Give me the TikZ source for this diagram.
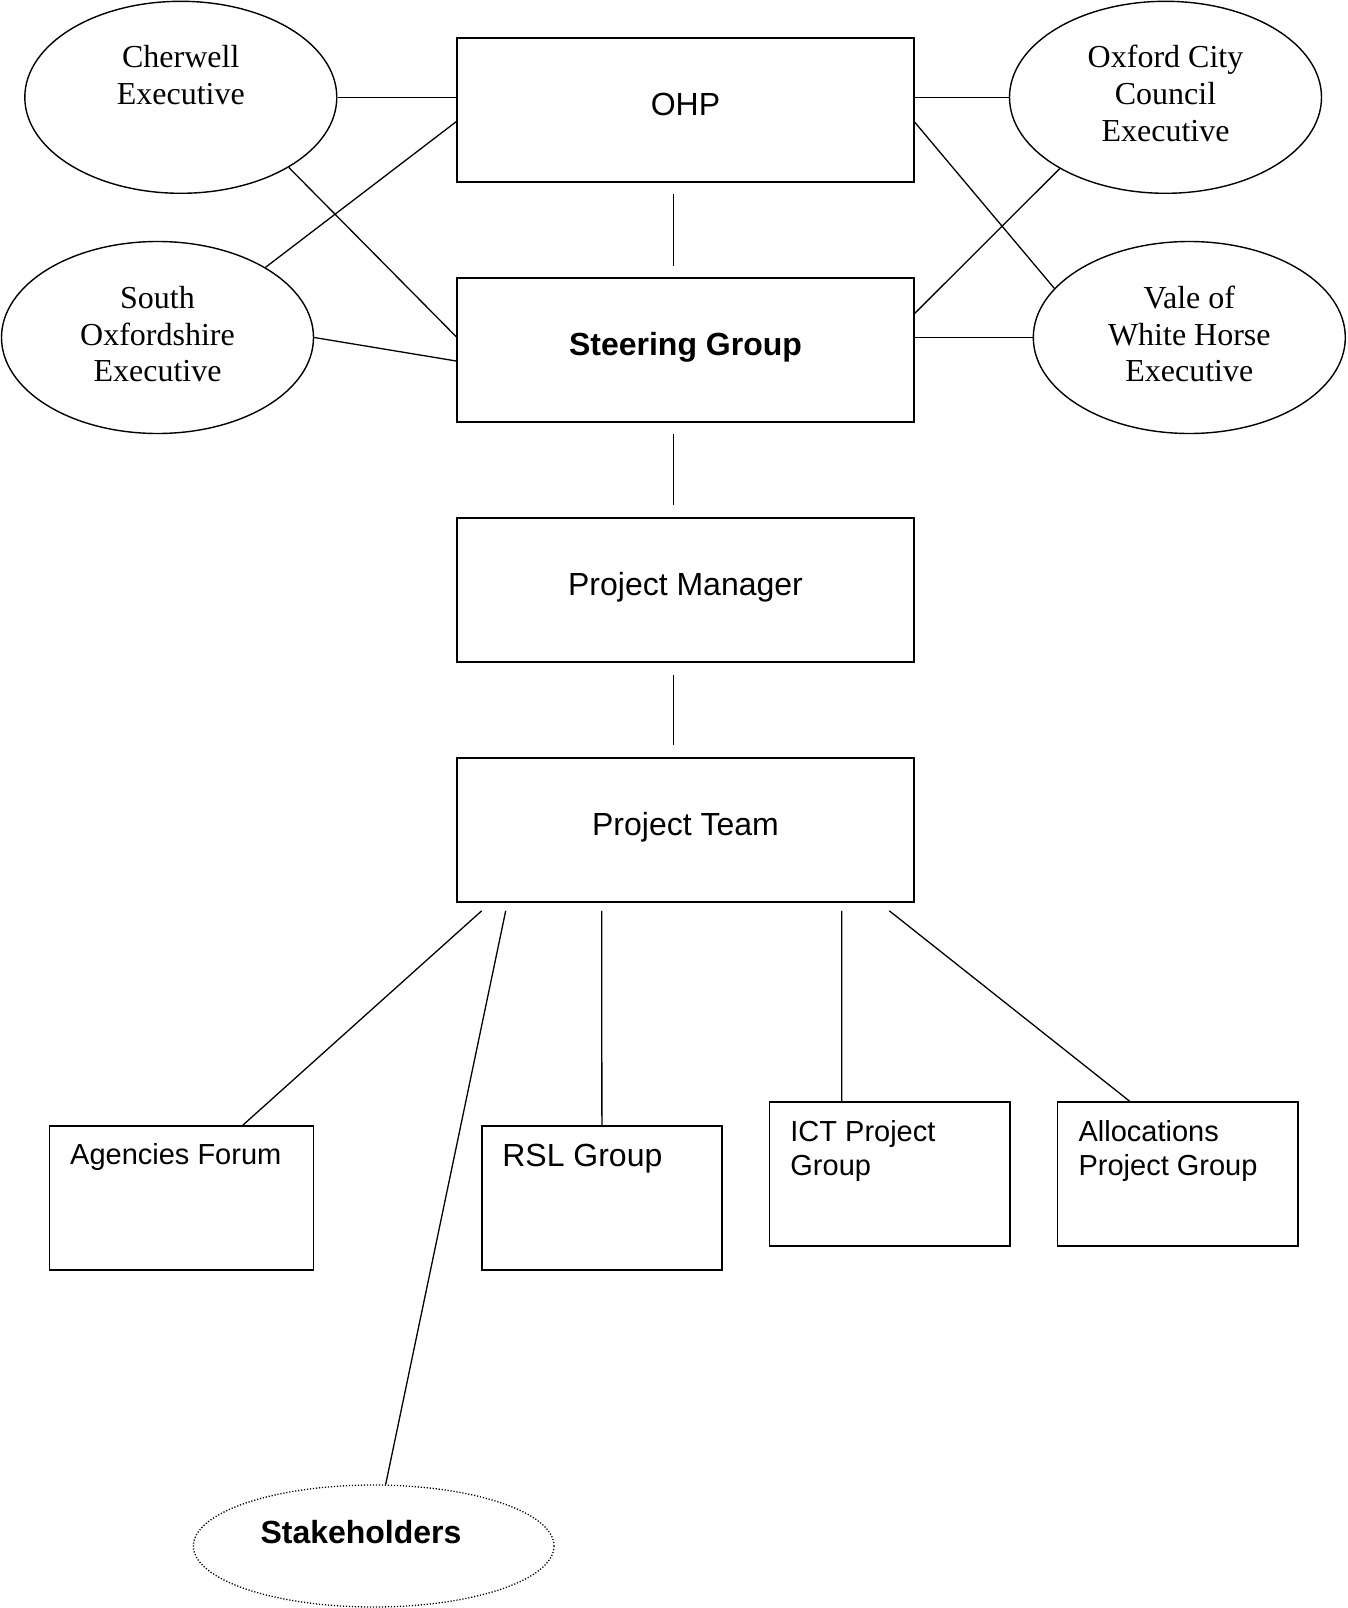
\documentclass[tikz,border=0pt]{standalone}
\usepackage{fontspec}
\setmainfont{Liberation Serif}
\newfontfamily\arialf{Liberation Sans}
\usetikzlibrary{shapes.geometric}
\begin{document}
\begin{tikzpicture}[x=1pt,y=-1pt,
  bigbox/.style={draw,line width=1.6pt,rectangle,minimum width=457pt,minimum height=144pt,inner sep=0pt,
    font=\arialf\fontsize{32}{36.8}\selectfont,text height=23pt,text depth=12pt},
  smallbox/.style={draw,line width=1.6pt,rectangle,minimum height=144pt,inner sep=0pt},
  exec/.style={draw,line width=1.4pt,ellipse,minimum width=312pt,minimum height=192pt,inner sep=0pt},
  exectext/.style={font=\fontsize{32}{36.8}\selectfont,align=center,inner sep=0pt,anchor=base},
  boxtext/.style={font=\arialf\fontsize{29}{34}\selectfont,align=left,inner sep=0pt,anchor=base west},
  conn/.style={line width=1.3pt}
]
\useasboundingbox[fill=white] (0,0) rectangle (1347,1608);

% central boxes
\node[bigbox] (ohp) at (685.5,110) {OHP};
\node[bigbox,font=\arialf\bfseries\fontsize{32}{36.8}\selectfont] (steer) at (685.5,350) {Steering Group};
\node[bigbox] (pm) at (685.5,590) {Project Manager};
\node[bigbox] (pt) at (685.5,830) {Project Team};

% executives
\node[exec] (cher) at (180.8,97.3) {};
\node[exec] (oxf) at (1165.5,97.3) {};
\node[exec] (sox) at (157.5,337.5) {};
\node[exec] (vale) at (1189.3,337.5) {};
\node[exectext] (chert) at ([yshift=-7.5pt]cher.center) {Cherwell\\Executive};
\node[exectext] (oxft) at ([yshift=-44.3pt]oxf.center) {Oxford City\\Council\\Executive};
\node[exectext] (soxt) at ([yshift=-44.3pt]sox.center) {South\\Oxfordshire\\Executive};
\node[exectext] (valet) at ([yshift=-44.3pt]vale.center) {Vale of\\White Horse\\Executive};

% bottom groups
\node[smallbox,minimum width=264pt] (agen) at (181.3,1198) {};
\node[smallbox,minimum width=240pt] (rsl) at (601.9,1198) {};
\node[smallbox,minimum width=240.8pt] (ict) at (889.8,1174) {};
\node[smallbox,minimum width=240.4pt] (alloc) at (1177.8,1174) {};
\node[boxtext] (agent) at ([xshift=21.5pt,yshift=-39pt]agen.north west) {Agencies Forum};
\node[boxtext,font=\arialf\fontsize{32}{36.8}\selectfont] (rslt) at ([xshift=21pt,yshift=-41.5pt]rsl.north west) {RSL Group};
\node[boxtext] (ictt) at ([xshift=21.6pt,yshift=-74pt]ict.north west) {ICT Project\\Group};
\node[boxtext] (allott) at ([xshift=21.6pt,yshift=-74pt]alloc.north west) {Allocations\\Project Group};

% stakeholders
\node[draw,ellipse,line width=1.3pt,dash pattern=on 1.2pt off 1.8pt,minimum width=360.6pt,minimum height=122pt,inner sep=0pt] (sth) at (373.7,1546) {};
\node[font=\arialf\bfseries\fontsize{32}{36.8}\selectfont,inner sep=0pt,anchor=base] (stht) at ([xshift=-12.7pt,yshift=2.5pt]sth.center) {Stakeholders};

% executive connectors
\draw[conn] (cher.east) -- (cher.east -| ohp.west);
\draw[conn] (cher.-33.2) -- ([yshift=13.3pt]steer.west);
\draw[conn] (sox.33.5) -- ([yshift=-11.7pt]ohp.west);
\draw[conn] (sox.east) -- ([yshift=-11pt]steer.west);
\draw[conn] (oxf.west -| ohp.east) -- (oxf.west);
\draw[conn] ([yshift=-12.3pt]ohp.east) -- (vale.160);
\draw[conn] (oxf.-146.6) -- ([yshift=36.7pt]steer.east);
\draw[conn] (vale.west -| steer.east) -- (vale.west);

% hierarchy
\draw[conn,shorten >=11.5pt,shorten <=11.5pt] ([xshift=-12.2pt]ohp.south) -- ([xshift=-12.2pt]steer.north);
\draw[conn,shorten >=12pt,shorten <=11.5pt] ([xshift=-12.2pt]steer.south) -- ([xshift=-12.2pt]pm.north);
\draw[conn,shorten >=12pt,shorten <=12pt] ([xshift=-12.2pt]pm.south) -- ([xshift=-12.2pt]pt.north);

% project team branches
\draw[conn] ([xshift=-203.8pt,yshift=-8pt]pt.south) -- ([xshift=61.5pt]agen.north);
\draw[conn] ([xshift=-179.8pt,yshift=-8pt]pt.south) -- (sth.79.5);
\draw[conn] ([xshift=-83.8pt,yshift=-8pt]pt.south) -- (rsl.north);
\draw[conn] ([xshift=156.2pt,yshift=-8pt]pt.south) -- ([xshift=-48pt]ict.north);
\draw[conn] ([xshift=203.8pt,yshift=-8pt]pt.south) -- ([xshift=-48.2pt]alloc.north);
\end{tikzpicture}
\end{document}
